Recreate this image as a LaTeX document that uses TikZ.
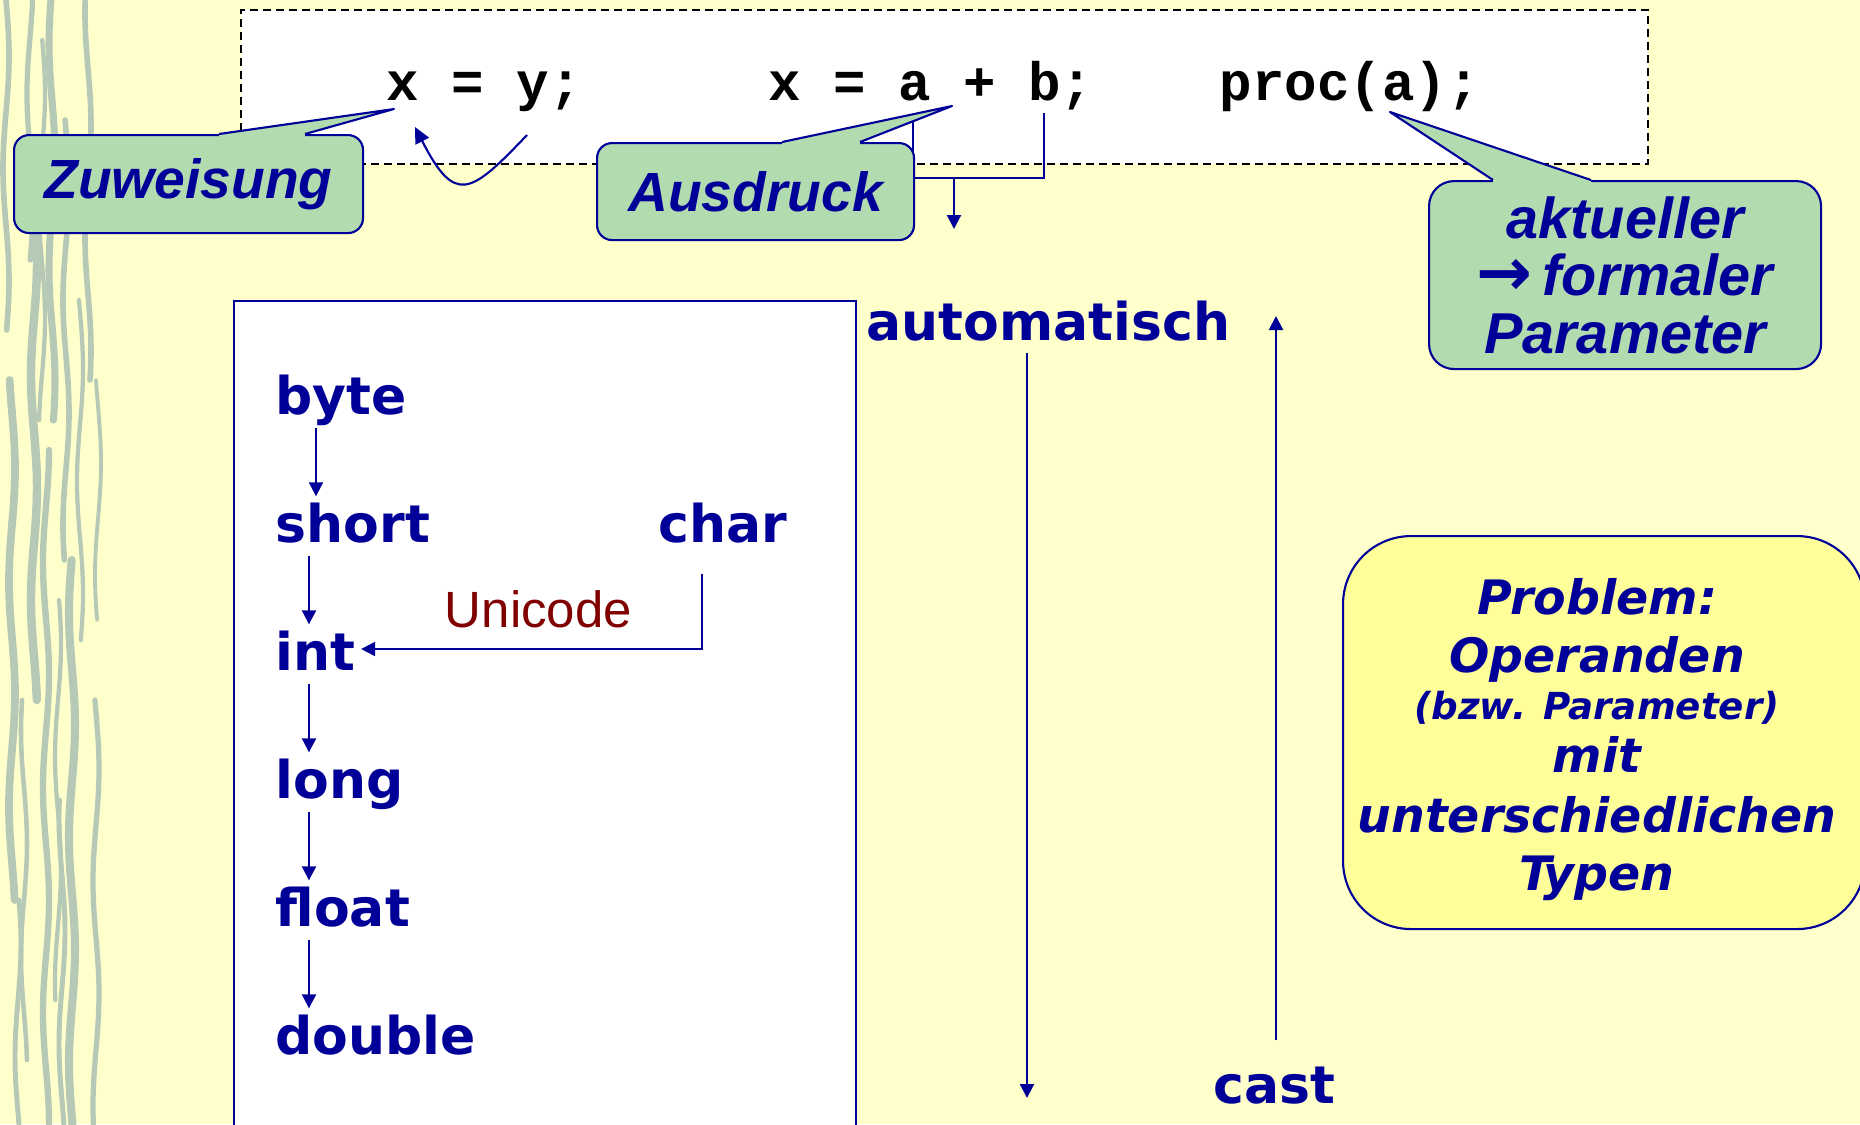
\documentclass[tikz,border=0pt]{standalone}
\usepackage{fontspec}
\setmainfont{DejaVu Sans}
\newfontfamily\calloutfont{Liberation Sans}
\newfontfamily\codefont{Liberation Mono}
\usetikzlibrary{positioning, arrows.meta, calc}
\definecolor{navyText}{RGB}{0,0,153}
\definecolor{bgYellow}{RGB}{255,255,204}
\definecolor{calloutGreen}{RGB}{179,219,176}
\definecolor{noteYellow}{RGB}{255,255,153}
\definecolor{uniRed}{RGB}{128,0,0}
\definecolor{grassGray}{RGB}{182,200,182}

\begin{document}
\begin{tikzpicture}[x=0.1mm, y=-0.1mm,
    typ/.style={anchor=base west, inner sep=0pt, text height=4mm, text depth=1.2mm,
                font=\bfseries\fontsize{14.8}{17}\selectfont, text=navyText},
    codetxt/.style={anchor=base west, inner sep=0pt,
                    font=\codefont\bfseries\fontsize{15.4}{18}\selectfont},
    callout/.style={draw=navyText, line width=0.6pt, fill=calloutGreen, rounded corners=1.5mm,
                    align=center, text=navyText, inner sep=0pt, anchor=north west,
                    font=\calloutfont\bfseries\itshape\fontsize{15.7}{16.3}\selectfont},
    wire/.style={line width=0.6pt, navyText},
    arr/.style={-{Triangle[length=1.4mm, width=1.4mm]}, wire},
  ]
  % page and background
  \useasboundingbox (0,0) rectangle (1860,1124);
  \fill[bgYellow] (0,0) rectangle (1860,1124);
  \clip (0,0) rectangle (1860,1124);

  % grass strip on the left
  \foreach \sx/\ya/\yb/\w/\ph in {6/0/330/1.6/0, 12/380/900/2.2/60, 18/900/1124/1.4/20, 30/0/260/1.5/120,
      34/200/700/2.4/30, 42/40/420/1.2/300, 52/0/420/2/200, 46/450/1124/1.8/90, 58/600/1000/1.2/140,
      66/120/560/1.6/150, 72/560/1124/2.3/10, 80/300/640/1.2/220, 88/0/380/1.6/250,
      96/700/1124/1.5/300, 24/700/1060/1.3/180, 62/800/1124/1.4/40, 98/380/620/1.1/70}
    \draw[grassGray, line width=\w*1pt, line cap=round]
      plot[variable=\t, domain=\ya:\yb, samples=60, smooth] ({\sx+3*sin(1.6*\t+\ph)}, \t);

  % code line
  \node[draw=black, line width=0.6pt, dash pattern=on 0.8mm off 0.5mm, fill=white, inner sep=0pt,
        minimum width=140.7mm, minimum height=15.4mm, anchor=north west] (codebox) at (240,9) {};
  \node[codetxt] (assign) at (386,100) {x = y;};
  \node[codetxt] (expr) at (768,100) {x = a + b;};
  \node[codetxt] (call) at (1219,100) {proc(a);};

  \coordinate (zuwTip) at (394,109);
  \coordinate (ausTip) at (952,106);
  \coordinate (parTip) at (1390,112);
  \coordinate (yFoot) at (527,135);
  \coordinate (xFoot) at (415,127);
  \coordinate (opA) at (913,116);
  \coordinate (opB) at (1044,113);
  \coordinate (sumJoin) at (954,178);
  \coordinate (sumOut) at (954,229);

  \draw[arr, -{Triangle[length=1.6mm, width=1.5mm]}] (yFoot) .. controls (470,195) and (455,205) .. (xFoot);
  \draw[wire] (opA) |- (sumJoin) -| (opB);
  \draw[arr] (sumJoin) -- (sumOut);

  % callouts
  \node[callout, minimum width=34.9mm, minimum height=9.8mm] (zuw) at (13,134) {Zuweisung};
  \fill[calloutGreen] ($(zuw.north west)+(206,3)$) -- ($(zuw.north west)+(206,0)$) -- (zuwTip)
    -- ($(zuw.north west)+(292,0)$) -- ($(zuw.north west)+(292,3)$) -- cycle;
  \draw[wire, line join=round] ($(zuw.north west)+(206,0)$) -- (zuwTip) -- ($(zuw.north west)+(292,0)$);

  \node[callout, minimum width=31.7mm, minimum height=9.7mm] (aus) at (596,142) {Ausdruck};
  \fill[calloutGreen] ($(aus.north west)+(186,3)$) -- ($(aus.north west)+(186,0)$) -- (ausTip)
    -- ($(aus.north west)+(264,0)$) -- ($(aus.north west)+(264,3)$) -- cycle;
  \draw[wire, line join=round] ($(aus.north west)+(186,0)$) -- (ausTip) -- ($(aus.north west)+(264,0)$);

  \node[callout, rounded corners=2.5mm, minimum width=39.2mm, minimum height=18.8mm,
        font=\calloutfont\bfseries\itshape\fontsize{16.4}{16.4}\selectfont] (par) at (1428,180)
        {aktueller\\{\fontspec{DejaVu Sans}\fontsize{19}{16.4}\selectfont →}\hspace{1mm}formaler\\Parameter};
  \fill[calloutGreen] ($(par.north west)+(65,3)$) -- ($(par.north west)+(65,0)$) -- (parTip)
    -- ($(par.north west)+(163,0)$) -- ($(par.north west)+(163,3)$) -- cycle;
  \draw[wire, line join=round] ($(par.north west)+(65,0)$) -- (parTip) -- ($(par.north west)+(163,0)$);

  % widening chain
  \node[draw=navyText, line width=0.6pt, fill=white, inner sep=0pt, minimum width=62.2mm,
        minimum height=90mm, anchor=north west] (typebox) at (233,300) {};
  \foreach \t [count=\i from 0] in {byte,short,int,long,float,double}
    \node[typ] (\t) at (275,{414+128*\i}) {\t};
  \node[typ] (char) at (658,542) {char};
  \foreach \a/\b/\dx in {byte/short/4.1, short/int/3.4, int/long/3.4, long/float/3.4, float/double/3.4}
    \draw[arr, shorten <=0.1mm, shorten >=0.5mm] ([xshift=\dx mm]\a.south west) -- ([xshift=\dx mm]\b.north west);
  \draw[arr] ([xshift=4.4mm, yshift=-1.9mm]char.south west) |-
    node[pos=0.74, above=2mm, inner sep=0pt, text=uniRed,
         font=\calloutfont\fontsize{14.5}{16}\selectfont] (unicode) {Unicode}
    ([xshift=0.5mm, yshift=0.7mm]int.east);

  % automatic vs. cast
  \node[typ] (auto) at (866,340) {automatisch};
  \node[typ] (cast) at (1213,1103) {cast};
  \coordinate (autoEnd) at (1027,1098);
  \coordinate (castEnd) at (1276,316);
  \draw[arr] (auto.south -| autoEnd) -- (autoEnd);
  \draw[arr] ($(cast.north -| castEnd)+(0,-22)$) -- (castEnd);

  % problem note
  \node[draw=navyText, line width=0.6pt, fill=noteYellow, rounded corners=6.8mm, anchor=north west,
        minimum width=52.2mm, minimum height=39.3mm] (problem) at (1342,535) {};
  \node[align=center, text=navyText, font=\bfseries\itshape\fontsize{13.5}{16.5}\selectfont]
        (problemtext) at ($(problem.center)+(-7,7)$)
        {Problem:\\ Operanden\\[-1.1mm] {\fontsize{10.6}{12}\selectfont (bzw. Parameter)}\\[-0.5mm]
         mit\\[0.2mm] unterschiedlichen\\ Typen};
\end{tikzpicture}
\end{document}
